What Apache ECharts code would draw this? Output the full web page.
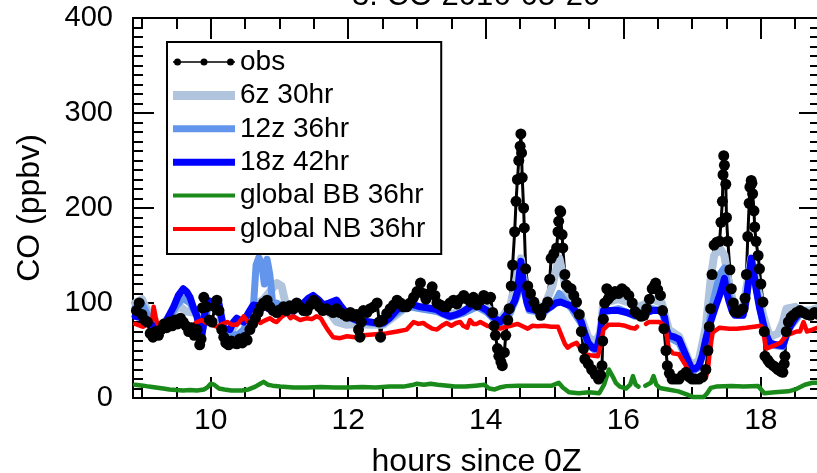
<!DOCTYPE html>
<html>
<head>
<meta charset="utf-8">
<script src="https://cdn.jsdelivr.net/npm/echarts@6/dist/echarts.min.js"></script>
<style>
  html, body { margin: 0; padding: 0; background: #fff; }
  #co { width: 817px; height: 473px; }
</style>
</head>
<body>
<div id="co"></div>
<script>
// hours since 0Z, CO in ppbv
var obs = [[8.92,92],[8.96,100],[9.0,88],[9.04,82],[9.08,80],[9.12,68],[9.16,64],[9.2,70],[9.24,66],[9.28,72],[9.32,78],[9.36,74],[9.4,80],[9.44,76],[9.48,82],[9.52,78],[9.56,84],[9.6,80],[9.64,76],[9.68,70],[9.72,74],[9.76,66],[9.8,72],[9.84,56],[9.86,62],[9.88,95],[9.9,106],[9.94,96],[9.98,82],[10.02,80],[10.06,96],[10.09,103],[10.12,92],[10.16,72],[10.19,64],[10.22,58],[10.26,56],[10.3,60],[10.34,58],[10.38,57],[10.42,62],[10.46,58],[10.5,64],[10.53,61],[10.57,72],[10.61,78],[10.65,84],[10.69,90],[10.73,96],[10.77,100],[10.82,103],[10.86,96],[10.91,92],[10.96,90],[11.01,93],[11.06,96],[11.1,92],[11.15,97],[11.2,94],[11.25,100],[11.3,96],[11.35,92],[11.4,92],[11.45,98],[11.5,103],[11.54,100],[11.58,96],[11.63,92],[11.68,94],[11.73,92],[11.78,90],[11.83,94],[11.88,90],[11.93,88],[11.98,86],[12.03,90],[12.08,86],[12.12,88],[12.15,72],[12.17,64],[12.19,80],[12.22,92],[12.27,90],[12.32,94],[12.37,96],[12.42,100],[12.45,80],[12.47,64],[12.5,82],[12.56,89],[12.61,94],[12.66,98],[12.71,103],[12.76,100],[12.8,96],[12.85,96],[12.9,100],[12.95,106],[13.0,112],[13.05,121],[13.09,110],[13.13,104],[13.18,110],[13.22,117],[13.26,108],[13.29,100],[13.34,98],[13.39,96],[13.43,96],[13.48,100],[13.53,103],[13.58,99],[13.63,104],[13.68,108],[13.73,104],[13.78,101],[13.82,106],[13.87,98],[13.92,103],[13.97,108],[14.02,104],[14.07,106],[14.1,90],[14.12,76],[14.14,66],[14.17,52],[14.19,44],[14.22,38],[14.24,34],[14.27,48],[14.29,66],[14.32,82],[14.34,94],[14.37,118],[14.39,140],[14.42,175],[14.44,207],[14.46,230],[14.48,250],[14.5,265],[14.51,278],[14.52,258],[14.53,232],[14.55,200],[14.56,179],[14.58,136],[14.61,118],[14.65,110],[14.7,101],[14.75,94],[14.8,87],[14.85,95],[14.9,101],[14.93,125],[14.95,147],[14.99,152],[15.03,158],[15.05,175],[15.06,186],[15.08,197],[15.09,196],[15.11,172],[15.12,158],[15.15,130],[15.17,119],[15.21,116],[15.24,115],[15.28,108],[15.32,101],[15.36,88],[15.39,70],[15.42,52],[15.44,41],[15.49,36],[15.54,30],[15.59,25],[15.64,20],[15.67,24],[15.69,34],[15.7,60],[15.71,83],[15.73,100],[15.76,115],[15.78,104],[15.83,108],[15.88,112],[15.93,110],[15.98,115],[16.03,112],[16.08,108],[16.13,100],[16.17,91],[16.22,88],[16.26,86],[16.3,87],[16.34,94],[16.38,104],[16.42,115],[16.45,118],[16.47,121],[16.5,114],[16.54,108],[16.57,92],[16.59,73],[16.62,50],[16.64,34],[16.67,26],[16.71,20],[16.76,20],[16.81,20],[16.86,24],[16.91,27],[16.96,22],[17.0,20],[17.05,20],[17.1,20],[17.15,22],[17.2,30],[17.23,50],[17.25,75],[17.27,94],[17.29,130],[17.32,161],[17.36,164],[17.4,165],[17.42,185],[17.44,207],[17.45,235],[17.46,255],[17.47,245],[17.49,225],[17.5,190],[17.52,165],[17.55,135],[17.57,115],[17.6,100],[17.62,91],[17.66,90],[17.7,92],[17.74,94],[17.77,105],[17.79,130],[17.81,170],[17.83,205],[17.84,222],[17.86,229],[17.87,226],[17.88,215],[17.9,197],[17.91,180],[17.93,165],[17.96,150],[17.98,136],[18.0,120],[18.03,101],[18.05,70],[18.06,44],[18.1,40],[18.13,37],[18.18,34],[18.22,32],[18.25,30],[18.29,28],[18.32,27],[18.34,36],[18.35,44],[18.37,70],[18.4,80],[18.44,85],[18.47,87],[18.52,90],[18.57,92],[18.62,90],[18.67,88],[18.72,87],[18.78,90],[18.83,88]];

var sixZ = [[8.9,100],[9.0,104],[9.08,92],[9.15,82],[9.22,76],[9.31,78],[9.4,86],[9.5,94],[9.56,96],[9.65,91],[9.75,90],[9.8,88],[9.87,72],[9.92,86],[9.97,98],[10.05,100],[10.11,99],[10.16,82],[10.2,70],[10.3,70],[10.38,80],[10.48,82],[10.57,90],[10.65,98],[10.77,104],[10.86,112],[10.96,121],[11.03,118],[11.1,96],[11.2,92],[11.35,98],[11.49,105],[11.64,96],[11.75,88],[11.83,80],[11.98,77],[12.12,78],[12.32,77],[12.51,77],[12.71,88],[12.85,96],[13.05,95],[13.29,92],[13.48,88],[13.67,92],[13.87,98],[14.02,95],[14.21,82],[14.36,98],[14.46,130],[14.51,147],[14.56,120],[14.63,98],[14.85,96],[14.97,118],[15.04,140],[15.07,147],[15.12,130],[15.2,104],[15.3,96],[15.39,84],[15.49,64],[15.59,58],[15.66,68],[15.71,100],[15.93,104],[16.1,100],[16.17,95],[16.3,98],[16.42,104],[16.56,100],[16.66,72],[16.81,65],[16.95,40],[17.0,34],[17.1,40],[17.2,75],[17.27,125],[17.32,150],[17.4,158],[17.47,150],[17.54,118],[17.62,95],[17.74,95],[17.8,120],[17.86,147],[17.93,125],[18.03,88],[18.13,64],[18.25,68],[18.32,80],[18.37,94],[18.5,96],[18.57,92],[18.72,92],[18.86,96]];

var twelveZ = [[8.9,95],[9.0,99],[9.08,88],[9.15,80],[9.22,72],[9.31,74],[9.4,84],[9.5,97],[9.6,105],[9.7,100],[9.8,86],[9.87,68],[9.92,82],[9.97,100],[10.05,98],[10.11,97],[10.16,80],[10.2,66],[10.3,66],[10.4,67],[10.48,72],[10.55,85],[10.62,95],[10.66,140],[10.7,148],[10.74,142],[10.78,120],[10.82,146],[10.86,130],[10.9,100],[10.96,100],[11.06,96],[11.2,92],[11.35,99],[11.49,104],[11.64,97],[11.8,100],[11.9,94],[11.98,87],[12.12,81],[12.32,79],[12.51,78],[12.71,90],[12.85,97],[13.05,94],[13.29,91],[13.48,85],[13.67,89],[13.87,96],[14.02,90],[14.21,76],[14.36,90],[14.46,108],[14.51,130],[14.56,112],[14.63,92],[14.85,90],[15.0,100],[15.07,110],[15.16,101],[15.24,95],[15.39,78],[15.49,56],[15.59,50],[15.66,64],[15.71,90],[15.93,94],[16.17,86],[16.42,94],[16.56,92],[16.66,64],[16.81,58],[17.0,28],[17.1,32],[17.2,60],[17.3,100],[17.4,130],[17.47,137],[17.54,108],[17.62,88],[17.74,87],[17.8,110],[17.86,145],[17.93,118],[18.03,78],[18.13,56],[18.32,54],[18.4,72],[18.57,88],[18.72,88],[18.86,92]];

var eighteenZ = [[8.9,86],[9.02,84],[9.12,79],[9.22,72],[9.31,75],[9.38,85],[9.46,96],[9.53,108],[9.6,115],[9.65,112],[9.7,106],[9.75,95],[9.8,86],[9.84,72],[9.87,65],[9.9,80],[9.94,103],[10.04,101],[10.11,103],[10.15,88],[10.19,73],[10.28,72],[10.33,80],[10.38,84],[10.48,80],[10.55,90],[10.62,98],[10.7,97],[10.77,98],[10.84,94],[10.91,91],[10.98,94],[11.06,96],[11.13,93],[11.2,91],[11.28,96],[11.35,100],[11.42,105],[11.49,108],[11.56,104],[11.64,98],[11.72,100],[11.83,103],[11.9,96],[11.98,89],[12.05,84],[12.12,82],[12.22,81],[12.32,80],[12.42,79],[12.51,79],[12.6,84],[12.71,93],[12.78,97],[12.85,100],[12.95,98],[13.05,96],[13.15,95],[13.29,93],[13.38,89],[13.48,86],[13.58,88],[13.67,91],[13.77,96],[13.87,99],[13.95,95],[14.02,92],[14.1,86],[14.21,80],[14.3,88],[14.36,94],[14.42,102],[14.46,112],[14.51,144],[14.54,125],[14.56,115],[14.6,100],[14.63,94],[14.75,92],[14.85,92],[14.95,96],[15.02,100],[15.09,101],[15.16,99],[15.24,97],[15.32,90],[15.39,80],[15.44,68],[15.49,58],[15.55,53],[15.59,52],[15.63,56],[15.66,66],[15.69,82],[15.71,92],[15.8,92],[15.93,92],[16.05,90],[16.17,87],[16.3,89],[16.42,92],[16.56,92],[16.6,85],[16.63,72],[16.66,66],[16.75,64],[16.81,62],[16.88,50],[16.95,38],[17.0,30],[17.05,31],[17.1,34],[17.15,45],[17.2,62],[17.25,76],[17.3,87],[17.35,98],[17.4,108],[17.44,118],[17.47,126],[17.5,112],[17.54,101],[17.58,92],[17.62,87],[17.74,87],[17.77,95],[17.79,105],[17.83,128],[17.86,147],[17.9,130],[17.93,115],[17.98,95],[18.03,80],[18.08,66],[18.13,58],[18.22,56],[18.32,55],[18.37,66],[18.43,76],[18.5,84],[18.57,90],[18.65,89],[18.72,87],[18.8,90],[18.86,92]];

var globalBB = [[8.9,14],[9.02,13],[9.1,12],[9.2,11],[9.31,10],[9.4,9],[9.5,8.5],[9.6,8],[9.7,8.5],[9.8,8],[9.9,9],[9.95,11],[10.0,15],[10.05,14],[10.12,10],[10.2,9],[10.3,8],[10.45,8],[10.55,9],[10.65,12],[10.72,15],[10.77,17],[10.83,14],[10.9,13],[11.01,12],[11.2,11],[11.4,11],[11.6,11.5],[11.8,11],[12.0,11],[12.2,11.5],[12.4,11],[12.6,12],[12.8,12],[12.95,14],[13.0,15],[13.1,14],[13.2,15],[13.3,14],[13.45,13],[13.55,12],[13.7,12],[13.85,13],[13.98,14],[14.05,10],[14.13,9],[14.2,11],[14.3,12.5],[14.47,13],[14.7,13],[14.96,13],[15.06,16],[15.12,11],[15.21,6],[15.35,5],[15.5,6],[15.65,5],[15.72,14],[15.79,30],[15.85,22],[15.89,16],[15.95,12],[16.04,10],[16.1,14],[16.14,23],[16.18,14],[16.22,12],[16.25,null],[16.32,13],[16.4,16],[16.44,23],[16.48,14],[16.53,10.6],[16.65,9],[16.8,7],[16.93,3.6],[17.02,1],[17.17,1],[17.22,5],[17.27,10.6],[17.35,12],[17.57,12.6],[17.75,12],[17.96,12.6],[18.05,5],[18.2,6],[18.4,7],[18.5,9],[18.64,14],[18.75,16],[18.86,16]];

var globalNB = [[8.9,78],[9.02,75],[9.1,79],[9.15,82],[9.17,96],[9.2,85],[9.22,79],[9.31,71],[9.4,74],[9.5,76],[9.56,77],[9.65,78],[9.72,75],[9.8,80],[9.87,82],[9.94,79],[10.02,77],[10.09,75],[10.17,78],[10.24,80],[10.31,77],[10.38,77],[10.44,82],[10.48,86],[10.53,81],[10.57,80],[10.62,84],[10.65,89],[10.69,82],[10.72,79],[10.8,82],[10.86,84],[10.92,81],[10.96,80],[11.04,86],[11.11,89],[11.16,84],[11.2,86],[11.3,82],[11.4,84],[11.47,83],[11.54,86],[11.6,84],[11.64,79],[11.7,72],[11.78,64],[11.88,63],[11.98,65],[12.1,64],[12.22,66],[12.4,67],[12.55,68],[12.71,70],[12.85,72],[12.9,76],[12.95,80],[13.02,78],[13.09,79],[13.15,76],[13.22,73],[13.29,72],[13.36,76],[13.43,79],[13.5,76],[13.57,79],[13.63,80],[13.67,76],[13.73,74],[13.77,82],[13.82,78],[13.87,78],[13.92,80],[14.02,76],[14.12,74],[14.21,73],[14.3,75],[14.36,76],[14.46,78],[14.52,76],[14.61,73],[14.68,76],[14.75,75.5],[14.85,76],[14.95,75],[15.05,75],[15.1,66],[15.15,57],[15.19,53],[15.25,56],[15.32,58],[15.38,52],[15.44,46],[15.52,45],[15.63,44],[15.67,55],[15.71,72],[15.78,77],[15.88,77],[15.95,77],[16.03,76],[16.1,74],[16.17,73],[16.2,75],[16.26,null],[16.33,78],[16.37,80],[16.45,80],[16.52,80],[16.61,76],[16.64,62],[16.66,52],[16.72,47],[16.81,46],[16.86,40],[16.91,34],[16.96,26],[17.0,21],[17.1,21],[17.2,21],[17.23,30],[17.25,44],[17.28,60],[17.3,69],[17.4,74],[17.54,73],[17.65,73],[17.79,74],[17.9,75],[18.0,76],[18.03,74],[18.06,58],[18.08,52],[18.15,54],[18.22,56],[18.28,58],[18.33,62],[18.37,66],[18.45,68],[18.52,70],[18.57,70],[18.62,80],[18.67,70],[18.75,72],[18.86,75]];

var xMajor = [10, 12, 14, 16, 18];
var xMinor = [9, 9.5, 10.5, 11, 11.5, 12.5, 13, 13.5, 14.5, 15, 15.5, 16.5, 17, 17.5, 18.5];
var names = ['obs', '6z 30hr', '12z 36hr', '18z 42hr', 'global BB 36hr', 'global NB 36hr'];

var X_MIN = 8.87, X_MAX = 18.86;
var FONT = '"Liberation Sans", Arial, Helvetica, sans-serif';
var chart = echarts.init(document.getElementById('co'));

function xAxisCfg(pos, ticks, len, main) {
    return {
        type: 'value', min: X_MIN, max: X_MAX, position: pos,
        axisLine: { show: main, onZero: false, lineStyle: { color: '#000', width: 2 } },
        axisTick: { inside: true, length: len, customValues: ticks, lineStyle: { color: '#000', width: 2 } },
        axisLabel: { show: main && pos == 'bottom', customValues: xMajor, fontSize: 30, color: '#000', fontFamily: FONT, margin: 8 },
        splitLine: { show: false }
    };
}
function yAxisCfg(pos) {
    return {
        type: 'value', min: 0, max: 400, interval: 100, position: pos,
        axisLine: { show: true, lineStyle: { color: '#000', width: 2 } },
        axisTick: { inside: true, length: 21, lineStyle: { color: '#000', width: 2 } },
        minorTick: { show: true, splitNumber: 10, length: 10, lineStyle: { color: '#000', width: 2 } },
        axisLabel: { show: pos == 'left', fontSize: 29, color: '#000', fontFamily: FONT, margin: 20 },
        splitLine: { show: false }
    };
}
function modelLine(name, data, color, width) {
    return {
        name: name, type: 'line', data: data, symbol: 'none', connectNulls: false,
        itemStyle: { color: color },
        lineStyle: { color: color, width: width, join: 'round', cap: 'round' }
    };
}

var xs = [xAxisCfg('bottom', xMajor, 21, true), xAxisCfg('bottom', xMinor, 11, false),
          xAxisCfg('top', xMajor, 21, true), xAxisCfg('top', xMinor, 11, false)];
xs[0].name = 'hours since 0Z';
xs[0].nameLocation = 'middle';
xs[0].nameGap = 48;
xs[0].nameTextStyle = { fontSize: 32, color: '#000', fontFamily: FONT };

var ys = [yAxisCfg('left'), yAxisCfg('right')];
ys[0].name = 'CO (ppbv)';
ys[0].nameLocation = 'middle';
ys[0].nameGap = 87;
ys[0].nameTextStyle = { fontSize: 32, color: '#000', fontFamily: FONT };

var dots = 'path://M0,4.2h62v1.6h-62z M1,5a3.5,3.5 0 1,1 7,0a3.5,3.5 0 1,1 -7,0z M27.5,5a3.5,3.5 0 1,1 7,0a3.5,3.5 0 1,1 -7,0z M54,5a3.5,3.5 0 1,1 7,0a3.5,3.5 0 1,1 -7,0z';
function bar(h) { return 'path://M0,0h62v' + h + 'h-62z'; }

chart.setOption({
    animation: false,
    backgroundColor: '#fff',
    title: {
        text: '3. CO 2016-05-20', left: 352, top: -19, padding: 0,
        textStyle: { fontSize: 31, fontWeight: 'normal', color: '#000', fontFamily: FONT }
    },
    grid: { left: 133, right: -3, top: 18, bottom: 75, outerBoundsMode: 'none', containLabel: false },
    legend: {
        left: 167, top: 42, orient: 'vertical',
        itemWidth: 62, itemHeight: 14, itemGap: 3.4,
        padding: [5, 16, 10, 6],
        borderColor: '#000', borderWidth: 2,
        textStyle: { fontSize: 28, lineHeight: 30, color: '#000', fontFamily: FONT },
        data: [
            { name: names[0], icon: dots },
            { name: names[1], icon: bar(9) },
            { name: names[2], icon: bar(7) },
            { name: names[3], icon: bar(7) },
            { name: names[4], icon: bar(4) },
            { name: names[5], icon: bar(4) }
        ]
    },
    xAxis: xs,
    yAxis: ys,
    series: [
        {
            name: names[0], type: 'line', data: obs, symbol: 'circle', symbolSize: 11,
            itemStyle: { color: '#000' }, lineStyle: { color: '#000', width: 3 }
        },
        modelLine(names[1], sixZ, '#b0c4de', 8),
        modelLine(names[2], twelveZ, '#6495ed', 7),
        modelLine(names[3], eighteenZ, '#0000ff', 7),
        modelLine(names[4], globalBB, '#1a8a1a', 4.5),
        modelLine(names[5], globalNB, '#ff0000', 4.5)
    ]
});
</script>
</body>
</html>
